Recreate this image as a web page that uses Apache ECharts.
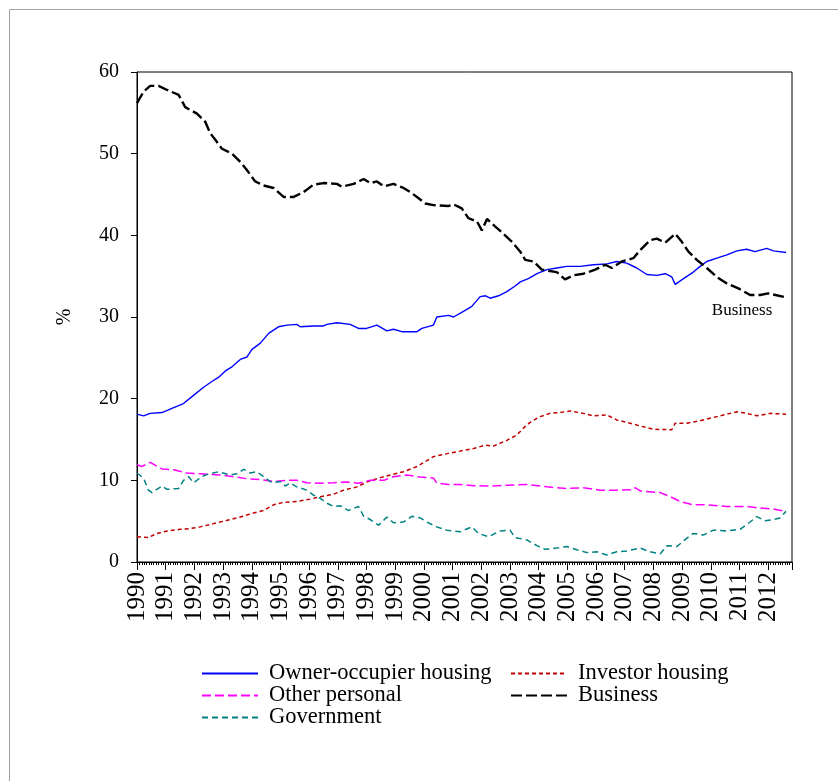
<!DOCTYPE html>
<html>
<head>
<meta charset="utf-8">
<script src="https://cdn.jsdelivr.net/npm/echarts@6/dist/echarts.min.js"></script>
<style>
html,body{margin:0;padding:0;background:#fff;}
#chart{width:838px;height:781px;}
</style>
</head>
<body>
<div id="chart"></div>
<script>
// ---- data: [year (decimal), percent] ----
const seriesNames = ['Owner-occupier housing', 'Investor housing', 'Other personal', 'Business', 'Government'];
const yearTicks = [1990,1991,1992,1993,1994,1995,1996,1997,1998,1999,2000,2001,2002,2003,2004,2005,2006,2007,2008,2009,2010,2011,2012];

const ownerOccupier = [
[1990.0,18.1],[1990.23,17.9],[1990.46,18.2],[1990.87,18.3],[1991.28,18.9],[1991.62,19.4],[1991.97,20.4],
[1992.32,21.4],[1992.61,22.1],[1992.84,22.6],[1993.08,23.4],[1993.31,23.9],[1993.6,24.8],[1993.83,25.1],
[1994.0,26.0],[1994.3,26.8],[1994.59,28.0],[1994.93,28.8],[1995.23,29.0],[1995.57,29.1],[1995.69,28.8],
[1996.15,28.9],[1996.5,28.9],[1996.62,29.1],[1996.97,29.3],[1997.43,29.1],[1997.72,28.6],[1998.0,28.6],
[1998.36,29.0],[1998.71,28.3],[1998.94,28.5],[1999.23,28.2],[1999.76,28.2],[1999.93,28.6],[2000.33,29.0],
[2000.45,30.0],[2000.86,30.2],[2001.03,30.0],[2001.38,30.7],[2001.67,31.3],[2001.96,32.5],[2002.15,32.6],
[2002.31,32.3],[2002.6,32.6],[2002.89,33.1],[2003.18,33.8],[2003.36,34.3],[2003.64,34.7],[2003.94,35.3],
[2004.29,35.8],[2004.63,36.0],[2004.98,36.2],[2005.45,36.2],[2005.91,36.4],[2006.38,36.5],[2006.72,36.8],
[2007.07,36.6],[2007.42,36.0],[2007.77,35.2],[2008.12,35.1],[2008.41,35.3],[2008.64,34.9],[2008.76,34.0],
[2009.05,34.7],[2009.39,35.5],[2009.63,36.2],[2009.86,36.8],[2010.21,37.2],[2010.56,37.6],[2010.91,38.1],
[2011.25,38.3],[2011.54,38.0],[2011.95,38.4],[2012.18,38.1],[2012.62,37.9]
];

const investorHousing = [
[1990.0,3.1],[1990.4,3.0],[1990.7,3.5],[1991.05,3.8],[1991.5,4.0],[1991.86,4.1],[1992.2,4.3],[1992.67,4.7],
[1993.14,5.1],[1993.6,5.5],[1994.06,6.0],[1994.41,6.3],[1994.76,7.0],[1995.11,7.3],[1995.57,7.4],[1996.04,7.7],
[1996.39,8.0],[1996.85,8.3],[1997.2,8.8],[1997.67,9.2],[1998.01,9.8],[1998.36,10.2],[1998.83,10.65],[1999.29,11.05],
[1999.76,11.7],[2000.05,12.3],[2000.33,12.9],[2000.86,13.3],[2001.15,13.5],[2001.73,13.9],[2002.14,14.3],[2002.43,14.2],
[2002.89,14.9],[2003.24,15.55],[2003.47,16.4],[2003.7,17.1],[2004.05,17.8],[2004.4,18.2],[2004.75,18.3],[2005.1,18.5],
[2005.56,18.2],[2005.91,17.9],[2006.38,18.0],[2006.72,17.4],[2007.07,17.1],[2007.54,16.65],[2008.0,16.25],[2008.64,16.2],
[2008.76,17.0],[2009.16,17.0],[2009.63,17.3],[2010.09,17.7],[2010.56,18.1],[2010.91,18.4],[2011.25,18.2],[2011.6,17.9],
[2012.06,18.2],[2012.62,18.1]
];

const otherPersonal = [
[1990.0,11.9],[1990.17,11.7],[1990.46,12.2],[1990.87,11.4],[1991.28,11.3],[1991.74,10.9],[1992.2,10.8],[1992.9,10.65],
[1993.37,10.45],[1993.83,10.2],[1994.3,10.1],[1994.76,9.85],[1995.23,10.0],[1995.57,10.0],[1995.92,9.7],[1996.39,9.65],
[1996.85,9.7],[1997.3,9.8],[1997.72,9.65],[1998.13,10.0],[1998.6,10.0],[1998.94,10.45],[1999.4,10.65],[1999.87,10.4],
[2000.33,10.3],[2000.45,9.65],[2000.86,9.5],[2001.26,9.5],[2001.73,9.35],[2002.31,9.3],[2002.89,9.4],[2003.59,9.5],
[2004.29,9.2],[2004.98,9.0],[2005.56,9.1],[2006.14,8.8],[2006.72,8.8],[2007.3,8.85],[2007.36,9.1],[2007.54,8.7],
[2008.24,8.5],[2008.59,8.0],[2008.94,7.4],[2009.39,7.0],[2009.86,7.0],[2010.56,6.8],[2011.25,6.8],[2011.72,6.6],
[2012.18,6.5],[2012.62,6.2]
];

const business = [
[1990.0,56.2],[1990.23,57.6],[1990.46,58.3],[1990.75,58.3],[1991.05,57.8],[1991.45,57.2],[1991.68,55.7],[1992.09,54.9],
[1992.38,53.9],[1992.55,52.5],[1992.73,51.7],[1992.96,50.6],[1993.31,50.0],[1993.6,49.0],[1993.83,48.0],[1994.12,46.6],
[1994.41,46.1],[1994.76,45.8],[1995.11,44.7],[1995.46,44.7],[1995.81,45.3],[1996.15,46.2],[1996.5,46.4],[1996.97,46.3],
[1997.14,45.95],[1997.55,46.3],[1997.9,46.9],[1998.13,46.4],[1998.36,46.6],[1998.6,46.0],[1998.94,46.3],[1999.29,45.8],
[1999.52,45.3],[1999.76,44.7],[2000.05,43.9],[2000.33,43.7],[2000.86,43.6],[2001.03,43.8],[2001.32,43.3],[2001.55,42.1],
[2001.85,41.7],[2002.02,40.6],[2002.2,42.0],[2002.48,41.1],[2002.77,40.2],[2003.07,39.2],[2003.36,38.0],[2003.53,37.0],
[2003.82,36.8],[2004.11,35.8],[2004.63,35.5],[2004.92,34.6],[2005.21,35.1],[2005.56,35.3],[2005.97,35.8],[2006.32,36.4],
[2006.55,36.0],[2006.9,36.8],[2007.3,37.2],[2007.54,38.2],[2007.88,39.4],[2008.12,39.6],[2008.41,39.1],[2008.76,40.2],
[2008.99,39.2],[2009.22,38.0],[2009.51,37.0],[2009.86,36.0],[2010.21,34.9],[2010.56,34.1],[2010.96,33.5],[2011.37,32.7],
[2011.72,32.7],[2012.0,32.9],[2012.62,32.4]
];

const government = [
[1990.0,10.9],[1990.23,10.25],[1990.4,8.8],[1990.52,8.5],[1990.87,9.3],[1991.05,8.9],[1991.45,9.0],[1991.62,10.0],
[1991.8,10.45],[1991.97,9.7],[1992.26,10.45],[1992.43,10.7],[1992.84,11.05],[1993.25,10.65],[1993.48,10.8],[1993.72,11.35],
[1993.95,10.9],[1994.18,11.05],[1994.41,10.45],[1994.7,9.7],[1994.99,9.85],[1995.17,9.3],[1995.34,9.7],[1995.57,9.2],
[1995.92,8.8],[1996.15,8.2],[1996.39,7.8],[1996.62,7.2],[1996.85,6.8],[1997.08,6.9],[1997.37,6.3],[1997.72,6.8],
[1997.9,5.6],[1998.13,5.2],[1998.42,4.5],[1998.71,5.5],[1998.94,4.8],[1999.29,4.9],[1999.58,5.6],[1999.87,5.4],
[2000.1,4.9],[2000.45,4.3],[2000.8,3.9],[2001.26,3.7],[2001.67,4.3],[2001.9,3.5],[2002.25,3.1],[2002.66,3.8],
[2003.0,3.9],[2003.18,3.0],[2003.59,2.7],[2003.94,2.0],[2004.23,1.55],[2004.63,1.7],[2004.98,1.9],[2005.33,1.5],
[2005.68,1.15],[2006.03,1.25],[2006.38,0.85],[2006.72,1.25],[2007.07,1.35],[2007.54,1.7],[2007.88,1.25],[2008.24,1.0],
[2008.47,2.0],[2008.82,1.9],[2009.16,2.9],[2009.39,3.5],[2009.74,3.3],[2010.09,3.9],[2010.56,3.8],[2011.02,4.0],
[2011.37,4.9],[2011.6,5.55],[2011.89,5.05],[2012.18,5.2],[2012.41,5.4],[2012.62,6.2]
];

const FONT = "'Liberation Serif','Times New Roman',serif";
const chart = echarts.init(document.getElementById('chart'), null, {renderer:'canvas'});

function lineSeries(name, data, color, width, dash) {
  return {
    name: name, type: 'line', data: data, symbol: 'none', smooth: false,
    lineStyle: {color: color, width: width, type: dash},
    itemStyle: {color: color},
    emphasis: {disabled: true}
  };
}

const series = [
  lineSeries(seriesNames[0], ownerOccupier, '#0000ff', 1.4, 'solid'),
  lineSeries(seriesNames[1], investorHousing, '#c00000', 1.5, [4, 3]),
  lineSeries(seriesNames[2], otherPersonal, '#ff00ff', 1.5, [9, 4]),
  lineSeries(seriesNames[4], government, '#008080', 1.5, [6, 4]),
  lineSeries(seriesNames[3], business, '#000000', 2.4, [11, 4])
];
series[4].markPoint = {
  symbol: 'circle', symbolSize: 0, silent: true,
  label: {show: true, position: 'inside', formatter: 'Business', color: '#000', fontFamily: FONT, fontSize: 17},
  data: [{coord: [2011.09, 30.8]}]
};

const legendCommon = {
  orient: 'vertical', top: 662, itemWidth: 56, itemHeight: 12, itemGap: -1, padding: 0,
  selectedMode: false,
  itemStyle: {opacity: 0, borderWidth: 0},
  textStyle: {color: '#000', fontFamily: FONT, fontSize: 22.5, lineHeight: 21, padding: [0, 0, 0, 6]}
};

const option = {
  animation: false,
  backgroundColor: '#fff',
  grid: {left: 137, right: 46, top: 72, bottom: 219, show: true, borderColor: '#000', borderWidth: 1, backgroundColor: 'transparent'},
  xAxis: {
    type: 'value', min: yearTicks[0], max: 2012.83, interval: 1,
    axisLine: {show: true, lineStyle: {color: '#000', width: 1}},
    axisTick: {show: true, length: 8, lineStyle: {color: '#000'}},
    minorTick: {show: true, splitNumber: 12, length: 3, lineStyle: {color: '#000'}},
    splitLine: {show: false}, minorSplitLine: {show: false},
    axisLabel: {
      rotate: 90, margin: 10, color: '#000', fontFamily: FONT, fontSize: 25,
      showMaxLabel: false,
      formatter: function (v) { return yearTicks.indexOf(Math.round(v)) >= 0 && Math.abs(v - Math.round(v)) < 1e-6 ? String(Math.round(v)) : ''; }
    }
  },
  yAxis: {
    type: 'value', min: 0, max: 60, interval: 10,
    name: '%', nameLocation: 'middle', nameGap: 62, nameRotate: 90,
    nameTextStyle: {color: '#000', fontFamily: FONT, fontSize: 20},
    axisLine: {show: true, lineStyle: {color: '#000', width: 1}},
    axisTick: {show: true, length: 6, lineStyle: {color: '#000'}},
    splitLine: {show: false},
    axisLabel: {color: '#000', fontFamily: FONT, fontSize: 20, margin: 18}
  },
  legend: [
    Object.assign({}, legendCommon, {data: [seriesNames[0], seriesNames[2], seriesNames[4]], left: 201}),
    Object.assign({}, legendCommon, {data: [seriesNames[1], seriesNames[3]], left: 510})
  ],
  graphic: [
    {type: 'rect', left: 7, top: 7, shape: {x: 0, y: 0, width: 900, height: 900}, style: {fill: 'none', stroke: '#a0a0a0', lineWidth: 1}, silent: true}
  ],
  series: series
};
chart.setOption(option);
</script>
</body>
</html>
